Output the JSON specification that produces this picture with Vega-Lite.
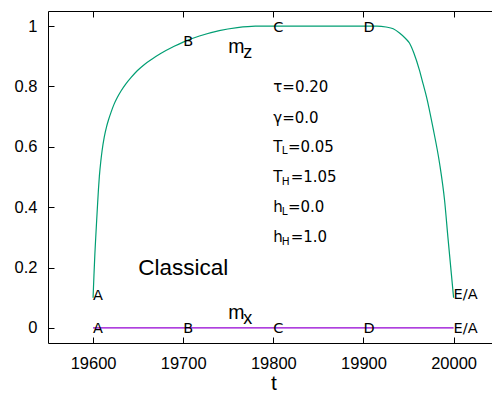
{
  "$schema": "https://vega.github.io/schema/vega-lite/v6.json",
  "width": 444,
  "height": 332,
  "autosize": "none",
  "padding": {"left": 48, "top": 11, "right": 0, "bottom": 51},
  "background": "white",
  "config": {
    "view": {"stroke": null},
    "axis": {"grid": false, "domainColor": "black", "tickColor": "black", "labelColor": "black", "titleColor": "black", "labelFont": "Liberation Sans", "labelFontSize": 16.5, "tickSize": -6, "domainWidth": 1, "tickWidth": 1},
    "text": {"font": "DejaVu Sans", "fontSize": 15, "color": "black"}
  },
  "datasets": {
    "mz": [
      {"t": 19600, "v": 0.1}, {"t": 19601, "v": 0.175}, {"t": 19602, "v": 0.245}, {"t": 19603, "v": 0.302},
      {"t": 19604, "v": 0.357}, {"t": 19605, "v": 0.41}, {"t": 19606, "v": 0.46}, {"t": 19607, "v": 0.503},
      {"t": 19608.7, "v": 0.555}, {"t": 19610, "v": 0.587}, {"t": 19612.4, "v": 0.632}, {"t": 19615, "v": 0.667},
      {"t": 19617, "v": 0.688}, {"t": 19620, "v": 0.715}, {"t": 19623, "v": 0.739}, {"t": 19627, "v": 0.764},
      {"t": 19631, "v": 0.785}, {"t": 19636, "v": 0.807}, {"t": 19642, "v": 0.829}, {"t": 19649, "v": 0.852},
      {"t": 19657, "v": 0.873}, {"t": 19666, "v": 0.892}, {"t": 19675, "v": 0.909}, {"t": 19690, "v": 0.933},
      {"t": 19700, "v": 0.947}, {"t": 19718, "v": 0.967}, {"t": 19740, "v": 0.985}, {"t": 19760, "v": 0.995},
      {"t": 19780, "v": 1.0}, {"t": 19850, "v": 1.0}, {"t": 19915, "v": 1.0}, {"t": 19925, "v": 0.997},
      {"t": 19933, "v": 0.991}, {"t": 19940, "v": 0.977}, {"t": 19947, "v": 0.958}, {"t": 19951, "v": 0.944},
      {"t": 19956, "v": 0.91}, {"t": 19962, "v": 0.855}, {"t": 19966, "v": 0.81}, {"t": 19970, "v": 0.765},
      {"t": 19977, "v": 0.665}, {"t": 19984.5, "v": 0.544}, {"t": 19990, "v": 0.422}, {"t": 19993.7, "v": 0.3},
      {"t": 19997.5, "v": 0.179}, {"t": 20000, "v": 0.1}
    ],
    "mx": [{"t": 19600, "v": 0}, {"t": 20000, "v": 0}],
    "pts": [
      {"t": 19600, "v": 0.11, "label": "A"}, {"t": 19700, "v": 0.953, "label": "B"}, {"t": 19800, "v": 0.998, "label": "C"},
      {"t": 19900, "v": 0.998, "label": "D"}, {"t": 20000, "v": 0.113, "label": "E/A"},
      {"t": 19600, "v": 0, "label": "A"}, {"t": 19700, "v": 0, "label": "B"}, {"t": 19800, "v": 0, "label": "C"},
      {"t": 19900, "v": 0, "label": "D"}, {"t": 20000, "v": 0, "label": "E/A"}
    ],
    "params": [
      {"t": 19800, "v": 0.78, "main": "τ=0.20", "sub": "", "rest": ""},
      {"t": 19800, "v": 0.68, "main": "γ=0.0", "sub": "", "rest": ""},
      {"t": 19800, "v": 0.584, "main": "T", "sub": "L", "rest": "=0.05"},
      {"t": 19800, "v": 0.482, "main": "T", "sub": "H", "rest": "=1.05"},
      {"t": 19800, "v": 0.383, "main": "h", "sub": "L", "rest": "=0.0"},
      {"t": 19800, "v": 0.283, "main": "h", "sub": "H", "rest": "=1.0"}
    ],
    "mags": [
      {"t": 19750, "v": 0.911, "main": "m", "sub": "z"},
      {"t": 19750, "v": 0.0295, "main": "m", "sub": "x"}
    ],
    "notes": [{"t": 19650, "v": 0.2, "label": "Classical"}]
  },
  "resolve": {"axis": {"x": "independent"}},
  "layer": [
    {
      "data": {"name": "mz"},
      "mark": {"type": "line", "color": "#009e73", "strokeWidth": 1.2, "interpolate": "monotone"},
      "encoding": {
        "x": {"field": "t", "type": "quantitative", "scale": {"domain": [19550, 20042.6], "nice": false, "zero": false},
          "axis": {"orient": "bottom", "values": [19600, 19700, 19800, 19900, 20000], "format": "d", "labelPadding": 18,
            "title": "t", "titleFont": "Liberation Sans", "titleFontSize": 21, "titleFontWeight": "normal",
            "titleX": 225.5, "titleY": 46, "titleBaseline": "alphabetic", "titleAlign": "center"}},
        "y": {"field": "v", "type": "quantitative", "scale": {"domain": [-0.05, 1.05], "nice": false, "zero": false},
          "axis": {"values": [0, 0.2, 0.4, 0.6, 0.8, 1], "format": "~g", "title": null, "labelPadding": 17}}
      }
    },
    {
      "data": {"name": "mx"},
      "mark": {"type": "line", "color": "#9400d3", "strokeWidth": 1.2},
      "encoding": {
        "x": {"field": "t", "type": "quantitative", "axis": {"orient": "top", "values": [19600, 19700, 19800, 19900, 20000], "labels": false, "title": null}},
        "y": {"field": "v", "type": "quantitative"}
      }
    },
    {
      "data": {"name": "pts"},
      "mark": {"type": "text", "align": "left", "baseline": "alphabetic", "fontSize": 14.5, "dy": 5.4},
      "encoding": {
        "x": {"field": "t", "type": "quantitative", "axis": null},
        "y": {"field": "v", "type": "quantitative"},
        "text": {"field": "label"}
      }
    },
    {
      "data": {"name": "params"},
      "mark": {"type": "text", "align": "left", "baseline": "alphabetic", "fontSize": 15},
      "encoding": {
        "x": {"field": "t", "type": "quantitative", "axis": null},
        "y": {"field": "v", "type": "quantitative"},
        "text": {"field": "main"}
      }
    },
    {
      "data": {"name": "params"},
      "transform": [{"filter": "datum.sub != ''"}],
      "mark": {"type": "text", "align": "left", "baseline": "alphabetic", "fontSize": 10.5, "dx": 8.5, "dy": 2.5},
      "encoding": {
        "x": {"field": "t", "type": "quantitative", "axis": null},
        "y": {"field": "v", "type": "quantitative"},
        "text": {"field": "sub"}
      }
    },
    {
      "data": {"name": "params"},
      "transform": [{"filter": "datum.sub == 'L'"}],
      "mark": {"type": "text", "align": "left", "baseline": "alphabetic", "fontSize": 15, "dx": 14.6},
      "encoding": {
        "x": {"field": "t", "type": "quantitative", "axis": null},
        "y": {"field": "v", "type": "quantitative"},
        "text": {"field": "rest"}
      }
    },
    {
      "data": {"name": "params"},
      "transform": [{"filter": "datum.sub == 'H'"}],
      "mark": {"type": "text", "align": "left", "baseline": "alphabetic", "fontSize": 15, "dx": 17.3},
      "encoding": {
        "x": {"field": "t", "type": "quantitative", "axis": null},
        "y": {"field": "v", "type": "quantitative"},
        "text": {"field": "rest"}
      }
    },
    {
      "data": {"name": "mags"},
      "mark": {"type": "text", "align": "left", "baseline": "alphabetic", "font": "Liberation Sans", "fontSize": 19.5},
      "encoding": {
        "x": {"field": "t", "type": "quantitative", "axis": null},
        "y": {"field": "v", "type": "quantitative"},
        "text": {"field": "main"}
      }
    },
    {
      "data": {"name": "mags"},
      "mark": {"type": "text", "align": "left", "baseline": "alphabetic", "font": "Liberation Sans", "fontSize": 18, "dx": 15, "dy": 5},
      "encoding": {
        "x": {"field": "t", "type": "quantitative", "axis": null},
        "y": {"field": "v", "type": "quantitative"},
        "text": {"field": "sub"}
      }
    },
    {
      "data": {"name": "notes"},
      "mark": {"type": "text", "align": "left", "baseline": "middle", "font": "Liberation Sans", "fontSize": 22.5},
      "encoding": {
        "x": {"field": "t", "type": "quantitative", "axis": null},
        "y": {"field": "v", "type": "quantitative"},
        "text": {"field": "label"}
      }
    }
  ]
}
